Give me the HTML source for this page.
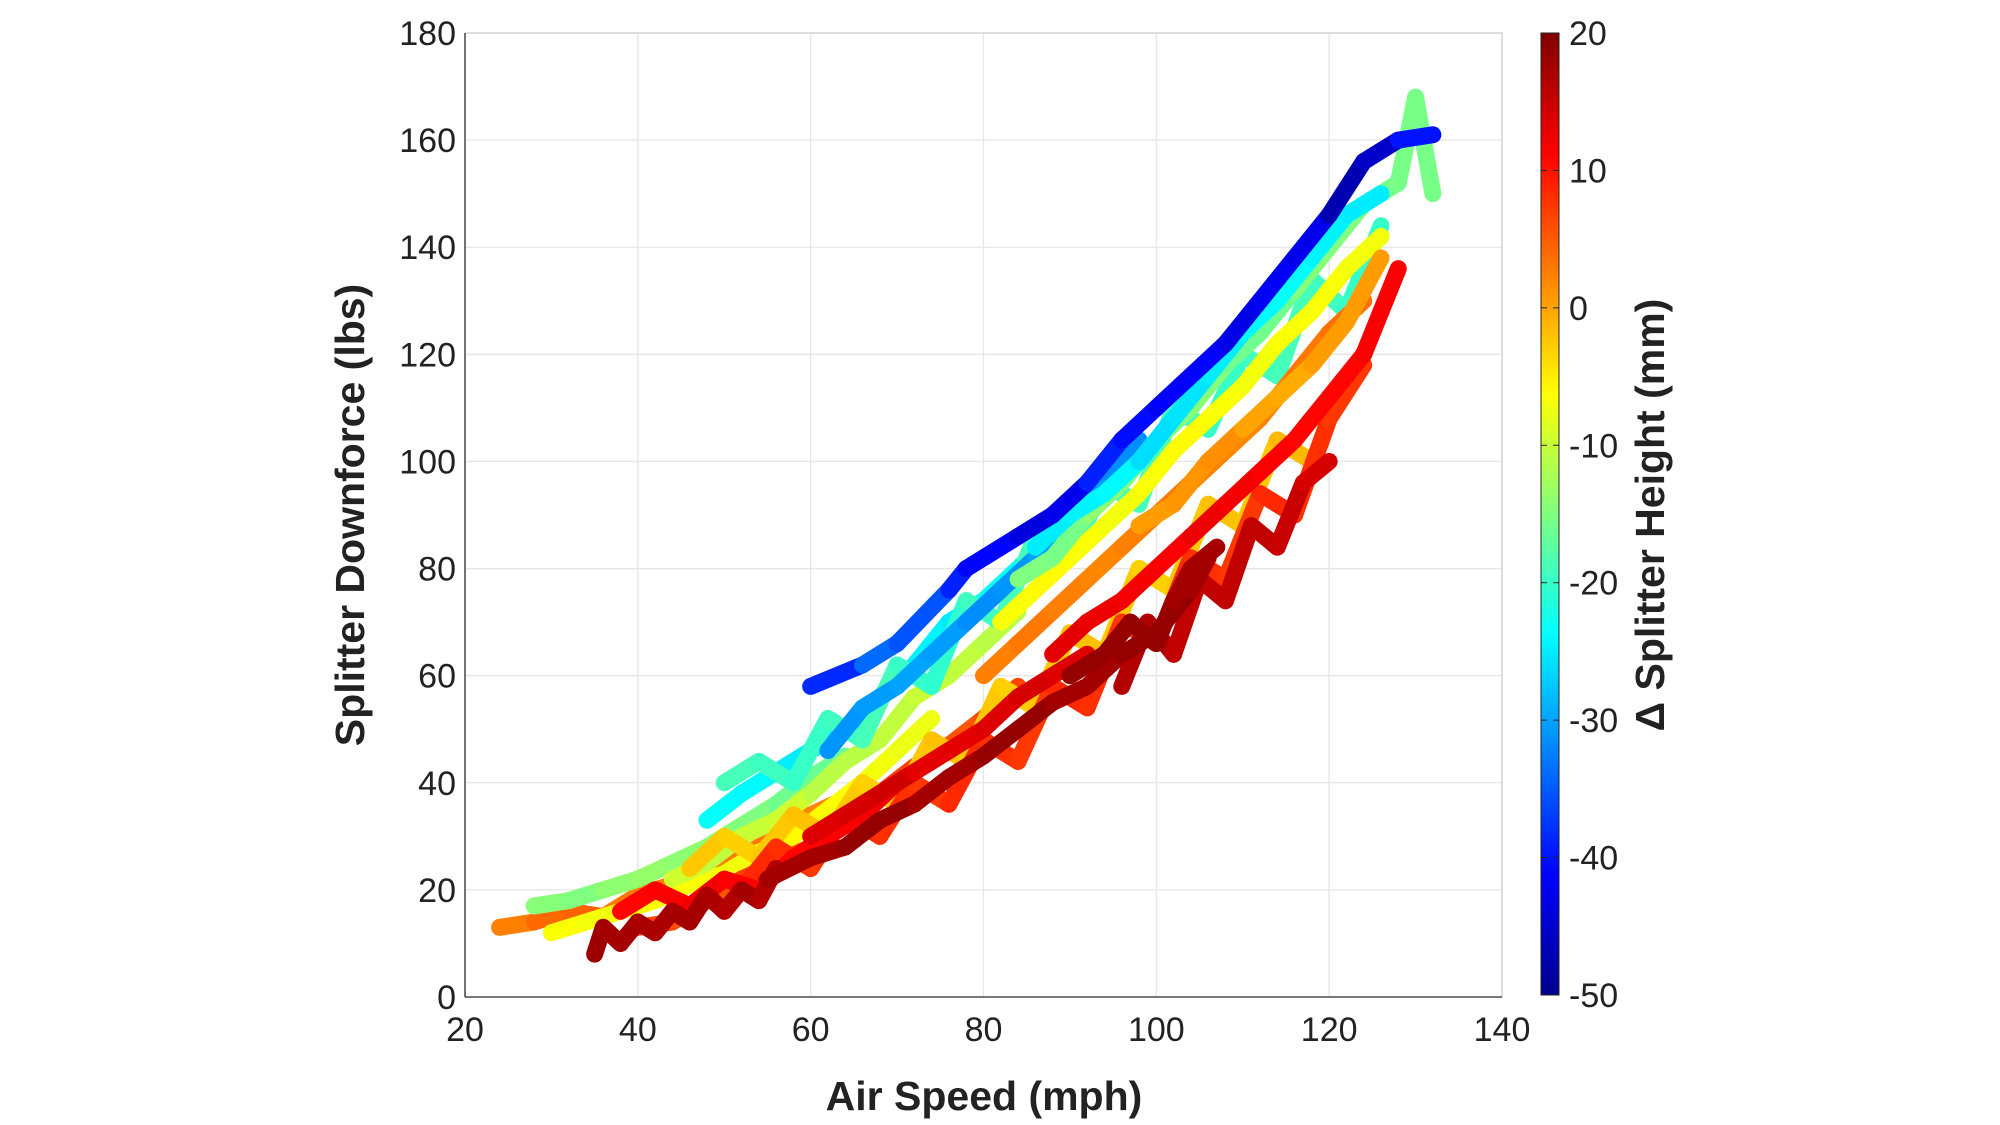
<!DOCTYPE html>
<html><head><meta charset="utf-8">
<style>
html,body{margin:0;padding:0;background:#fff;}
svg{display:block;font-family:"Liberation Sans",Arial,sans-serif;}
</style></head>
<body>
<svg id="chart" width="2000" height="1125" viewBox="0 0 2000 1125" xmlns="http://www.w3.org/2000/svg">
<defs>
<linearGradient id="jet" x1="0" y1="1" x2="0" y2="0">
<stop offset="0" stop-color="#00008f"/>
<stop offset="0.125" stop-color="#0000ff"/>
<stop offset="0.375" stop-color="#00ffff"/>
<stop offset="0.625" stop-color="#ffff00"/>
<stop offset="0.875" stop-color="#ff0000"/>
<stop offset="1" stop-color="#800000"/>
</linearGradient>
</defs>
<g id="grid"></g>
<g id="marks"></g>
<g id="axes"></g>
<text x="984" y="1110" text-anchor="middle" font-size="41" font-weight="bold" fill="#222">Air Speed (mph)</text>
<text transform="translate(364,515) rotate(-90)" text-anchor="middle" font-size="41" font-weight="bold" fill="#222">Splitter Downforce (lbs)</text>
<rect x="1541" y="33" width="18" height="962" fill="url(#jet)" stroke="#222" stroke-width="1"/>
<g id="cbticks"></g>
<text transform="translate(1664,515) rotate(-90)" text-anchor="middle" font-size="41" font-weight="bold" fill="#222">Δ Splitter Height (mm)</text>
</svg>
<script>
const xTicks=[20,40,60,80,100,120,140];
const yTicks=[0,20,40,60,80,100,120,140,160,180];
const cbTicks=[20,10,0,-10,-20,-30,-40,-50];
// traces: [speed, downforce, deltaHeight]
const trace1=[[35,8,18],[36,13,18],[38,10,17],[40,14,18],[42,12,16],[44,16,18],[46,14,17],[48,19,18],[50,16,16],[52,20,17],[54,18,18],[56,24,15]];
const trace2=[[24,13,2],[28,14,3],[32,16,5],[36,15,4],[40,19,2],[44,21,3],[48,24,1],[52,26,4],[56,30,2],[60,34,3],[64,37,1]];
const trace3=[[28,17,-15],[32,18,-14],[36,20,-16],[40,22,-12],[44,25,-15],[48,28,-13],[52,32,-16],[56,36,-14],[60,41,-18],[64,45,-15]];
const trace4=[[30,12,-7],[34,14,-6],[38,16,-8],[42,18,-5],[46,21,-7],[50,23,-6],[54,27,-8],[58,30,-5],[62,35,-7],[66,40,-6],[70,46,-8],[74,52,-7]];
const trace5=[[38,16,12],[42,20,10],[46,17,13],[50,22,11],[54,20,12],[58,26,10],[62,30,12],[66,34,11],[70,40,13],[74,44,10],[78,48,12]];
const trace6=[[55,22,18],[60,26,17],[64,28,18],[68,33,19],[72,36,18],[76,41,17],[80,45,18],[84,50,19],[88,55,18],[92,58,17],[96,64,18],[100,68,19],[104,76,18],[106,82,17]];
const trace7=[[48,33,-25],[52,38,-22],[56,42,-26],[60,46,-24],[64,50,-27],[68,56,-25],[72,62,-23],[76,70,-26],[80,74,-24],[84,80,-22],[88,86,-25]];
const trace8=[[60,58,-42],[66,62,-35],[70,66,-33],[76,76,-38],[78,80,-40],[84,86,-42],[88,90,-45],[92,96,-40],[96,104,-38],[100,110,-43],[104,116,-40],[108,122,-42],[112,130,-44],[116,138,-40],[120,146,-45],[124,156,-48],[128,160,-42],[132,161,-38]];
const trace9=[[80,60,3],[84,66,2],[88,72,4],[92,78,1],[96,84,3],[100,90,2],[104,96,4],[108,102,1],[112,108,3],[116,116,2],[120,124,4],[124,130,3]];
const trace10=[[82,70,-6],[86,76,-7],[90,82,-5],[94,88,-8],[98,94,-6],[102,102,-7],[106,108,-5],[110,114,-8],[114,122,-6],[118,128,-7],[122,136,-6],[126,142,-8]];
const trace11=[[84,78,-14],[88,82,-16],[92,90,-15],[96,96,-13],[100,104,-16],[104,110,-14],[108,118,-15],[112,124,-17],[116,132,-15],[120,140,-14],[124,148,-16],[128,152,-15],[130,168,-16],[132,150,-15]];
const trace12=[[86,84,-24],[90,90,-26],[94,94,-23],[98,100,-25],[102,108,-27],[106,116,-24],[110,124,-26],[114,130,-22],[118,138,-25],[122,146,-24],[126,150,-26]];
const trace13=[[88,64,14],[92,70,12],[96,74,13],[100,80,11],[104,86,12],[108,92,13],[112,98,11],[116,104,12],[120,112,10],[124,120,12],[126,128,11],[128,136,12]];
const trace14=[[90,60,18],[94,64,19],[97,70,18],[100,66,19],[102,74,18],[104,80,17],[107,84,18]];
const trace15=[[40,13,6],[44,14,7],[48,18,5],[52,22,6],[56,25,8],[60,28,5],[64,32,7],[68,38,6],[72,43,8],[76,47,5],[80,52,6],[84,58,7]];
const trace16=[[44,22,-9],[48,25,-10],[52,30,-11],[56,33,-9],[60,38,-10],[64,44,-12],[68,48,-10],[72,56,-11],[76,60,-9],[80,66,-12],[84,72,-10]];
const trace17=[[62,46,-30],[66,54,-32],[70,58,-29],[74,64,-31],[78,70,-30],[82,76,-33],[86,82,-29],[90,88,-31],[94,98,-30],[98,104,-33]];
const trace18=[[98,88,1],[102,92,0],[106,100,2],[110,106,1],[114,112,-1],[118,118,0],[122,126,1],[126,138,0]];
const trace19=[[60,30,14],[64,34,13],[68,38,15],[72,42,14],[76,46,12],[80,50,14],[84,56,13],[88,60,15],[92,64,12]];
const trace20=[[46,24,-3],[50,30,-2],[54,26,-4],[58,34,-1],[62,30,-3],[66,40,-2],[70,36,-4],[74,48,-1],[78,44,-3],[82,58,-2],[86,54,-4],[90,68,-1],[94,64,-3],[98,80,-2],[102,76,-4],[106,92,-1],[110,88,-3],[114,104,-2],[118,100,-1]];
const trace21=[[52,20,8],[56,28,9],[60,24,7],[64,34,8],[68,30,9],[72,40,7],[76,36,8],[80,48,9],[84,44,7],[88,58,8],[92,54,9],[96,70,7],[100,66,8],[104,82,9],[108,78,7],[112,94,8],[116,90,9],[120,108,7],[124,118,8]];
const trace22=[[50,40,-20],[54,44,-18],[58,40,-21],[62,52,-19],[66,48,-20],[70,62,-18],[74,58,-22],[78,74,-19],[82,70,-20],[86,86,-18],[90,82,-21],[94,96,-19],[98,92,-20],[102,110,-18],[106,106,-21],[110,120,-19],[114,116,-20],[118,134,-18],[122,128,-21],[126,144,-19]];
const trace23=[[96,58,16],[99,70,17],[102,64,16],[105,78,15],[108,74,16],[111,88,15],[114,84,16],[117,96,14],[120,100,14]];
const traces=[trace2,trace3,trace4,trace15,trace16,trace7,trace22,trace17,trace10,trace11,trace12,trace20,trace9,trace18,trace21,trace5,trace19,trace13,trace23,trace1,trace6,trace14,trace8];

const X0=465,X1=1502,Y0=997,Y1=33;
const xS=v=>X0+(v-20)/120*(X1-X0);
const yS=v=>Y0-(v-0)/180*(Y0-Y1);
const cS=v=>995-(v+50)/70*(995-33);
const NS="http://www.w3.org/2000/svg";
function jet(h){
  let t=(h+50)/70; t=Math.max(0,Math.min(1,t));
  const f=x=>Math.max(0,Math.min(1,1.5-Math.abs(4*t-x)));
  const r=f(3),g=f(2),b=f(1);
  return `rgb(${Math.round(r*255)},${Math.round(g*255)},${Math.round(b*255)})`;
}
function mk(tag,attrs,parent){const e=document.createElementNS(NS,tag);for(const k in attrs)e.setAttribute(k,attrs[k]);parent.appendChild(e);return e;}
const grid=document.getElementById('grid'),axes=document.getElementById('axes'),marks=document.getElementById('marks'),cb=document.getElementById('cbticks');
xTicks.forEach(t=>{
  const l=mk('line',{x1:xS(t),x2:xS(t),y1:Y1,y2:Y0,stroke:'#e6e6e6','stroke-width':1.3},grid);
  
  
  const tx=mk('text',{x:xS(t),y:1041,'text-anchor':'middle','font-size':34,fill:'#222'},axes);
  tx.textContent=t;
  
  
});
yTicks.forEach(t=>{
  const l=mk('line',{x1:X0,x2:X1,y1:yS(t),y2:yS(t),stroke:'#e6e6e6','stroke-width':1.3},grid);
  
  
  const tx=mk('text',{x:456,y:yS(t)+12,'text-anchor':'end','font-size':34,fill:'#222'},axes);
  tx.textContent=t;
  
  
});
const box=mk('rect',{x:X0,y:Y1,width:X1-X0,height:Y0-Y1,fill:'none',stroke:'#d0d0d0','stroke-width':1.3},axes);


mk('line',{x1:X0,x2:X1,y1:Y0,y2:Y0,stroke:'#333','stroke-width':1.3},axes);
mk('line',{x1:X0,x2:X0,y1:Y1,y2:Y0,stroke:'#333','stroke-width':1.3},axes);
traces.forEach(tr=>{
  const g=mk('g',{},marks);
  
  
  for(let i=0;i<tr.length-1;i++){
    const a=tr[i],b=tr[i+1];
    mk('line',{x1:xS(a[0]),y1:yS(a[1]),x2:xS(b[0]),y2:yS(b[1]),stroke:jet((a[2]+b[2])/2),'stroke-width':17,'stroke-linecap':'round'},g);
  }
});
cbTicks.forEach(t=>{
  mk('line',{x1:1541,x2:1547,y1:cS(t),y2:cS(t),stroke:'#222','stroke-width':1},cb);
  mk('line',{x1:1553,x2:1559,y1:cS(t),y2:cS(t),stroke:'#222','stroke-width':1},cb);
  const tx=mk('text',{x:1569,y:cS(t)+12,'font-size':34,fill:'#222'},cb);
  tx.textContent=t;
  
  
});
</script>
</body></html>
